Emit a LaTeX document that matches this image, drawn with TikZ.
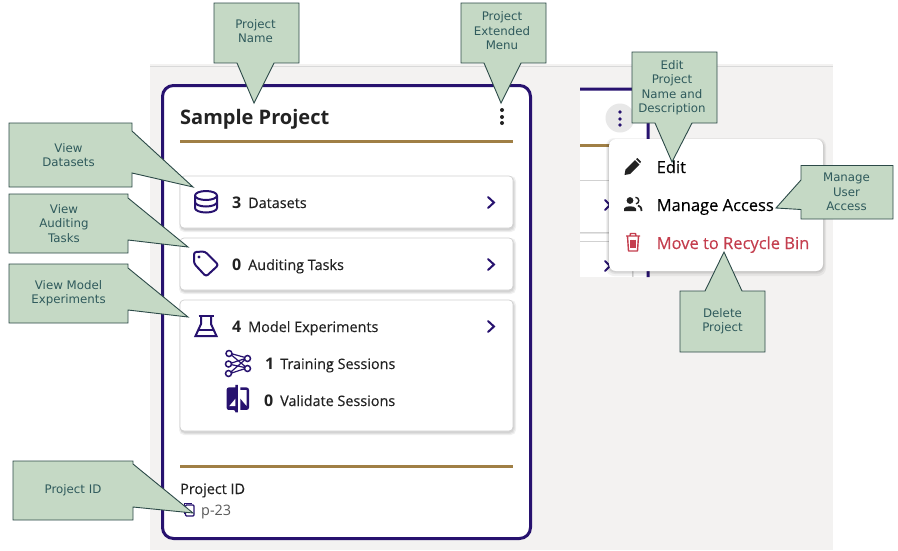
\documentclass[tikz,border=0pt]{standalone}
\usepackage{fontspec}
\setmainfont{Open Sans}
\newfontfamily\midfont[FakeBold=0.25]{Open Sans}
\newfontfamily\callfont{DejaVu Sans}
\usetikzlibrary{calc}
\definecolor{purp}{HTML}{27126F}
\definecolor{gold}{HTML}{A07F45}
\definecolor{pagebg}{HTML}{F3F2F1}
\definecolor{callfill}{HTML}{C5D9C5}
\definecolor{callline}{HTML}{2C4A48}
\definecolor{calltext}{HTML}{2F5A5C}
\definecolor{ink}{HTML}{222222}
\definecolor{redtxt}{HTML}{C43E4E}
\tikzset{
  callshape/.style={fill=callfill,draw=callline,line width=0.9pt,line join=miter},
  calltxt/.style={font=\callfont\fontsize{11.8}{14.5}\selectfont,text=calltext,align=center,inner sep=0pt},
  rowlabel/.style={anchor=base west,inner sep=0pt,text=ink,font=\midfont\fontsize{14.4}{16}\selectfont},
  rownum/.style={anchor=base west,inner sep=0pt,text=ink,font=\bfseries\fontsize{16}{18}\selectfont},
  menulabel/.style={anchor=base west,inner sep=0pt,font=\midfont\fontsize{16.5}{18}\selectfont},
  icon/.style={draw=purp,line width=2pt,line join=round,line cap=round},
  chev/.style={draw=purp,line width=2pt,line cap=round,line join=miter},
  goldrule/.style={draw=gold,line width=3pt},
  shad/.style={fill=black,opacity=0.06,draw=none,rounded corners=5pt},
  rowcard/.style={fill=white,draw=black!18,line width=0.7pt,rounded corners=4pt}
}
\newcommand{\softshadow}[4]{%
  \fill[shad] (#1-1,#2+0) rectangle (#3+3,#4+4);
  \fill[shad] (#1,#2+1) rectangle (#3+2,#4+3);
  \fill[shad] (#1,#2+1) rectangle (#3+1,#4+2);
}
\begin{document}
\begin{tikzpicture}[x=1pt,y=-1pt]
\useasboundingbox (0,0) rectangle (898,550);
\fill[white] (0,0) rectangle (898,550);
% page background
\fill[pagebg] (150,64) rectangle (833,550);
\draw[draw=black!15,line width=0.8pt] (150,66.5) -- (833,66.5);
% right fragment
\fill[white] (580,89) rectangle (648,277);
\draw[purp,line width=3pt] (580,89) -- (640,89) arc[start angle=90,end angle=0,radius=8pt] -- (648,277);
\draw[gold,line width=3pt] (580,145.5) -- (632,145.5);
\fill[black,opacity=0.10] (580,181) rectangle (634,234);
\fill[black,opacity=0.10] (580,242) rectangle (634,277);
\fill[white] (580,180) rectangle (632,232);
\fill[white] (580,241) rectangle (632,277);
\draw[draw=black!18,line width=0.7pt,line join=round] (580,180) -- (632,180) -- (632,232) -- (580,232);
\draw[draw=black!18,line width=0.7pt,line join=round] (580,241) -- (632,241) -- (632,277);
\draw[chev] (605,200) -- (610,205) -- (605,210);
\draw[chev] (605,261) -- (610,266) -- (605,271);
\fill[black!9] (620,118) circle[radius=14.5pt];
\foreach \yy in {112,119,125}{\fill[purp] (620,\yy) circle[radius=1.9pt];}
% main card
\draw[purp,line width=3pt,fill=white,rounded corners=11pt] (162.5,85.5) rectangle (530.5,538.5);
\node[anchor=base west,inner sep=0pt,text=ink,font=\bfseries\fontsize{20}{22}\selectfont] (title) at (180,124) {Sample Project};
\foreach \yy in {110,117,123}{\fill[ink] (502,\yy) circle[radius=2pt];}
\draw[goldrule] (180,141.5) -- (513,141.5);
% row cards
\softshadow{180}{176}{513}{228}
\draw[rowcard] (180,176) rectangle (513,228);
\softshadow{180}{238}{513}{290}
\draw[rowcard] (180,238) rectangle (513,290);
\softshadow{180}{300}{513}{431}
\draw[rowcard] (180,300) rectangle (513,431);
% database icon
\draw[icon] (206,195.5) ellipse[x radius=11pt,y radius=4.5pt];
\draw[icon] (195,195.5) -- (195,208) arc[start angle=180,end angle=360,x radius=11pt,y radius=4.5pt] -- (217,195.5);
\draw[icon] (195,202) arc[start angle=180,end angle=360,x radius=11pt,y radius=4.5pt];
% tag icon
\draw[icon,rounded corners=2.5pt] (194,252) -- (205,251.5) -- (218.5,265) -- (206,276.5) -- (194,263.5) -- cycle;
\fill[purp] (199,257) circle[radius=1.7pt];
% flask icon
\draw[icon,line cap=butt] (198.5,316) -- (213.5,316);
\draw[icon,line cap=butt,line join=miter] (201,316) -- (201,324) -- (195.5,336) -- (216.5,336) -- (211,324) -- (211,316);
\draw[purp,line width=1.5pt] (199,330) -- (213,330);
% network icon
\draw[purp,line width=1.2pt] (229,353) -- (247,358) (229,353) -- (247,368) (228.5,364) -- (247,358) (228.5,364) -- (247,368) (228.5,374) -- (247,358) (228.5,374) -- (247,368);
\foreach \px/\py in {229/353.5,228.5/364,228.5/373.5,247.5/358.5,247.5/368.5}{\draw[purp,line width=1.5pt,fill=white] (\px,\py) circle[radius=3pt];}
% validate icon
\begin{scope}[shift={(223,383.7)},x=1.24pt,y=-1.25pt]
\fill[purp,rounded corners=2pt] (10,3) -- (3,3) -- (3,21) -- (10,21) [sharp corners] -- (10,23) -- (12,23) -- (12,1) -- (10,1) -- cycle;
\fill[white] (10,18) -- (5,18) -- (10,12) -- cycle;
\fill[purp] (14,3) -- (14,5) -- (19,5) -- (19,18) -- (14,12) -- (14,21) -- (19,21) .. controls (20.1,21) and (21,20.1) .. (21,19) -- (21,5) .. controls (21,3.9) and (20.1,3) .. (19,3) -- cycle;
\end{scope}
% chevrons
\draw[chev] (488,197) -- (494,202.5) -- (488,208);
\draw[chev] (488,259) -- (494,264.5) -- (488,270);
\draw[chev] (488,321) -- (494,326.5) -- (488,332);
% row labels
\node[rownum] (n1) at (232,208) {3};
\node[rowlabel] (l1) at (248,208) {Datasets};
\node[rownum] (n2) at (232,270) {0};
\node[rowlabel] (l2) at (248,270) {Auditing Tasks};
\node[rownum] (n3) at (232,332) {4};
\node[rowlabel] (l3) at (248,332) {Model Experiments};
\node[rownum] (n4) at (265,369) {1};
\node[rowlabel] (l4) at (280,369) {Training Sessions};
\node[rownum] (n5) at (264,406) {0};
\node[rowlabel] (l5) at (280,406) {Validate Sessions};
% footer
\draw[goldrule] (180,466.5) -- (513,466.5);
\node[rowlabel] (pidl) at (180,494) {Project ID};
\node[rowlabel,text=black!65,font=\fontsize{14.4}{16}\selectfont] (pidv) at (201,515) {p-23};
\draw[purp,line width=1.2pt,rounded corners=1pt] (185.5,505) rectangle (194,516);
\draw[purp,line width=1.2pt] (184.5,514) -- (184.5,503.5) -- (192,503.5);
% popup menu
\fill[black,opacity=0.05,rounded corners=8pt] (606,138) rectangle (826,276);
\fill[black,opacity=0.06,rounded corners=8pt] (607,139) rectangle (825,274);
\fill[black,opacity=0.07,rounded corners=7pt] (608,140) rectangle (824,272.5);
\fill[white,rounded corners=7pt] (609,139) rectangle (823,271);
% pencil
\fill[ink] (624.5,175) -- (625.5,169.5) -- (635,160) -- (639.5,164.5) -- (630,174) -- cycle;
\fill[ink] (636,159) -- (637.5,158) -- (641,161.5) -- (640.2,163.3) -- cycle;
% people
\fill[ink] (630,200.5) circle[radius=3.4pt];
\fill[ink] (624,211) -- (624,208.5) .. controls (625,205.5) and (635,205.5) .. (636,208.5) -- (636,211) -- cycle;
\draw[ink,line width=1.4pt] (635.5,197.3) arc[start angle=90,end angle=-80,radius=3.3pt];
\draw[ink,line width=1.8pt] (638,205.5) .. controls (640,206) and (641.5,207.5) .. (641.5,211);
% trash
\draw[redtxt,line width=1.4pt,line join=round] (626,236) -- (640,236) (630,236) -- (630.5,233.5) -- (635.5,233.5) -- (636,236);
\draw[redtxt,line width=1.4pt,line join=round] (627.5,236) -- (628.5,251) -- (637.5,251) -- (638.5,236);
\draw[redtxt,line width=1.1pt] (631,239.5) -- (631,248) (633,239.5) -- (633,248) (635,239.5) -- (635,248);
\node[menulabel,text=black] (medit) at (656.5,173) {Edit};
\node[menulabel,text=black] (mman) at (656.5,211) {Manage Access};
\node[menulabel,text=redtxt] (mdel) at (656.5,249) {Move to Recycle Bin};
% callouts
\draw[callshape] (214,3) -- (299,3) -- (299,63) -- (274,63) -- (254,103) -- (237,63) -- (214,63) -- cycle;
\node[calltxt] (cname) at (255.5,31) {Project\\Name};
\draw[callshape] (461,3) -- (546,3) -- (546,63) -- (521,63) -- (501,103) -- (484,63) -- (461,63) -- cycle;
\node[calltxt] (cext) at (502,31) {Project\\Extended\\Menu};
\draw[callshape] (632,52) -- (717,52) -- (717,123) -- (692,123) -- (672,162) -- (655,123) -- (632,123) -- cycle;
\node[calltxt] (cedit) at (672,87.5) {Edit\\Project\\Name and\\Description};
\draw[callshape] (801,165.5) -- (893,165.5) -- (893,219) -- (801,219) -- (801,209.5) -- (776,208) -- (801,180) -- cycle;
\node[calltxt] (cman) at (846.5,192) {Manage\\User\\Access};
\draw[callshape] (680,291) -- (705,291) -- (724,252) -- (742,291) -- (765,291) -- (765,352) -- (680,352) -- cycle;
\node[calltxt] (cdel) at (722.5,321) {Delete\\Project};
\draw[callshape] (9,123) -- (132,123) -- (132,131) -- (193,187) -- (132,173) -- (132,187) -- (9,187) -- cycle;
\node[calltxt] (cds) at (68.5,155) {View\\Datasets};
\draw[callshape] (9,194) -- (128,194) -- (128,198) -- (188,247) -- (128,240) -- (128,253) -- (9,253) -- cycle;
\node[calltxt] (caud) at (64,223.5) {View\\Auditing\\Tasks};
\draw[callshape] (9,264) -- (128,264) -- (128,268) -- (188,317) -- (128,310) -- (128,323) -- (9,323) -- cycle;
\node[calltxt] (cexp) at (68.5,293) {View Model\\Experiments};
\draw[callshape] (13,461) -- (133,461) -- (133,464) -- (193,513) -- (133,507) -- (133,520) -- (13,520) -- cycle;
\node[calltxt] (cid) at (73,490) {Project ID};
\end{tikzpicture}
\end{document}
